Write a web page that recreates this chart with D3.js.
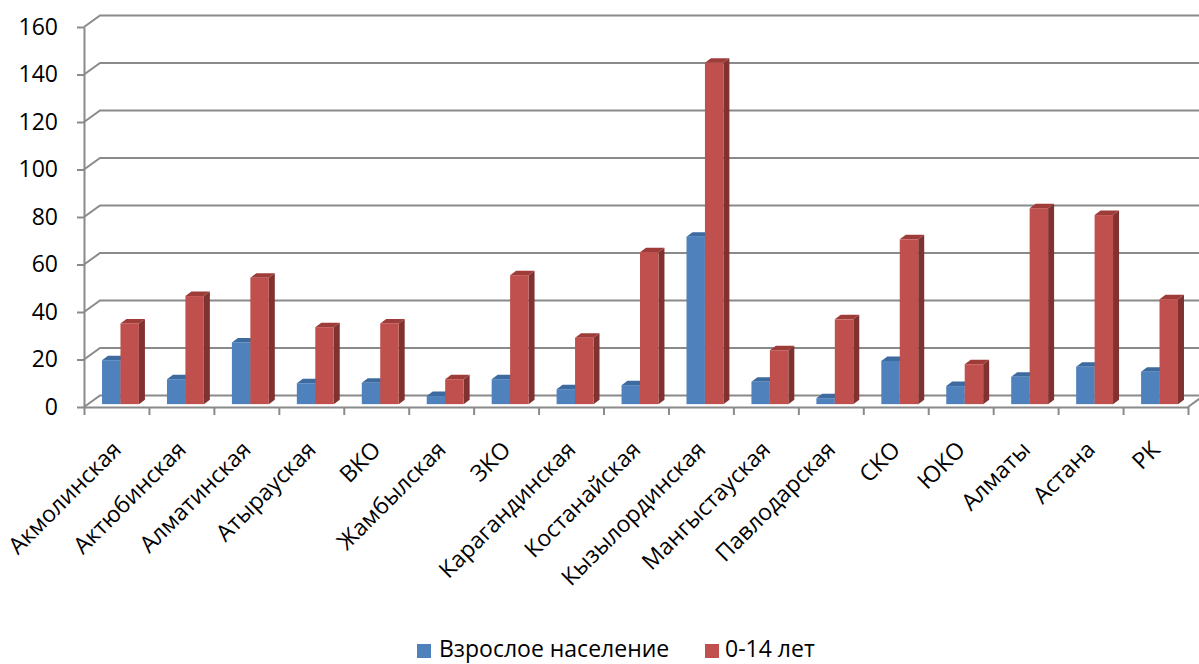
<!DOCTYPE html>
<html>
<head>
<meta charset="utf-8">
<script src="https://cdn.jsdelivr.net/npm/d3@7"></script>
<style>
  body { margin: 0; background: #fff; }
  text { font-family: "Open Sans", sans-serif; fill: #000; }
</style>
</head>
<body>
<div id="chart-area"></div>
<script>
// data
const categories = ["Акмолинская", "Актюбинская", "Алматинская", "Атырауская", "ВКО",
  "Жамбылская", "ЗКО", "Карагандинская", "Костанайская", "Кызылординская",
  "Мангыстауская", "Павлодарская", "СКО", "ЮКО", "Алматы", "Астана", "РК"];
const adults   = [18.5, 10.5, 26, 8.8, 9, 3.4, 10.5, 6.3, 8, 70.5, 9.4, 2.5, 18.2, 7.6, 11.5, 15.7, 13.6];
const children = [34, 45.5, 53.2, 32.4, 34, 10.5, 54.3, 28, 64, 143.7, 22.7, 35.7, 69.4, 16.8, 82.5, 79.6, 44.2];
const seriesNames = ["Взрослое население", "0-14 лет"];
const yTicks = [0, 20, 40, 60, 80, 100, 120, 140, 160];

const W = 1199, H = 664;
const fontSize = "23px";
// front plane of the plot box and the depth shift to the back wall
const box = { lft: 84, rht: 1188, bot: 407, top: 27 };
const depth = { dx: 16, dy: -11.5 };
const bar = { dx: 6, dy: -4.5, shift: 0.25 }; // bars stand a quarter of the way in

const colors = [
  { front: "#4f81bd", top: "#3d6a9f", side: "#2f5480" },
  { front: "#c0504d", top: "#9e3c3a", side: "#7f3230" }
];
const grid = "#8a8a8a";

const svg = d3.select("#chart-area").append("svg")
  .attr("width", W).attr("height", H);

// scales
const yFront = d3.scaleLinear().domain([0, 160]).range([box.bot, box.top]);
const yBar = d3.scaleLinear().domain([0, 160])
  .range([box.bot + depth.dy * bar.shift, box.top + depth.dy * bar.shift]);
const xCat = d3.scaleBand().domain(categories)
  .range([box.lft + depth.dx * bar.shift, box.rht + depth.dx * bar.shift]);
const xSer = d3.scaleBand().domain([0, 1])
  .range([0, xCat.bandwidth()]).paddingOuter(0.76);
const xTick = d3.scaleLinear().domain([0, categories.length]).range([box.lft, box.rht]);

// gridlines on the side and back walls
const gridG = svg.append("g");
yTicks.forEach(v => {
  const y0 = yFront(v);
  gridG.append("path")
    .attr("d", `M${box.lft},${y0}L${box.lft + depth.dx},${y0 + depth.dy}L${box.rht + depth.dx + 20},${y0 + depth.dy}`)
    .attr("fill", "none").attr("stroke", grid).attr("stroke-width", 2);
});
// right edge of the floor
gridG.append("path")
  .attr("d", `M${box.rht},${box.bot}L${box.rht + depth.dx},${box.bot + depth.dy}`)
  .attr("fill", "none").attr("stroke", grid).attr("stroke-width", 2);

// bars
const barsG = svg.append("g");
categories.forEach((c, i) => {
  [adults[i], children[i]].forEach((v, s) => {
    const x0 = xCat(c) + xSer(s), x1 = x0 + xSer.bandwidth();
    const y0 = yBar(0), y1 = yBar(v);
    const col = colors[s];
    barsG.append("path")
      .attr("d", `M${x1},${y1}L${x1 + bar.dx},${y1 + bar.dy}L${x1 + bar.dx},${y0 + bar.dy}L${x1},${y0}Z`)
      .attr("fill", col.side);
    barsG.append("path")
      .attr("d", `M${x0},${y1}L${x0 + bar.dx},${y1 + bar.dy}L${x1 + bar.dx},${y1 + bar.dy}L${x1},${y1}Z`)
      .attr("fill", col.top);
    barsG.append("rect")
      .attr("x", x0).attr("y", y1)
      .attr("width", x1 - x0).attr("height", y0 - y1)
      .attr("fill", col.front);
  });
});

// Y axis
const yAxis = svg.append("g")
  .attr("transform", `translate(${box.lft},0)`)
  .call(d3.axisLeft(yFront).tickValues(yTicks).tickSize(7).tickPadding(19).tickSizeOuter(0));
yAxis.selectAll("text").attr("font-size", fontSize).attr("font-family", "Open Sans");

// X axis: ticks on category boundaries
const xAxis = svg.append("g")
  .attr("transform", `translate(0,${box.bot})`)
  .call(d3.axisBottom(xTick).tickValues(d3.range(categories.length + 1))
    .tickFormat("").tickSize(8).tickSizeOuter(0));

svg.selectAll(".domain, .tick line").attr("stroke", grid).attr("stroke-width", 2);

// category labels
const xFront = d3.scaleBand().domain(categories).range([box.lft, box.rht]);
svg.append("g").selectAll("text")
  .data(categories)
  .join("text")
    .attr("transform", d => `translate(${xFront(d) + xFront.bandwidth() / 2 + 6},451) rotate(-45)`)
    .attr("text-anchor", "end")
    .attr("font-size", fontSize)
    .text(d => d);

// legend
const legend = [{ x: 417, tx: 439 }, { x: 705, tx: 725 }];
legend.forEach((l, s) => {
  svg.append("rect")
    .attr("x", l.x).attr("y", 644).attr("width", 14).attr("height", 14)
    .attr("fill", colors[s].front);
  svg.append("text")
    .attr("x", l.tx).attr("y", 657)
    .attr("font-size", fontSize)
    .text(seriesNames[s]);
});
</script>
</body>
</html>
